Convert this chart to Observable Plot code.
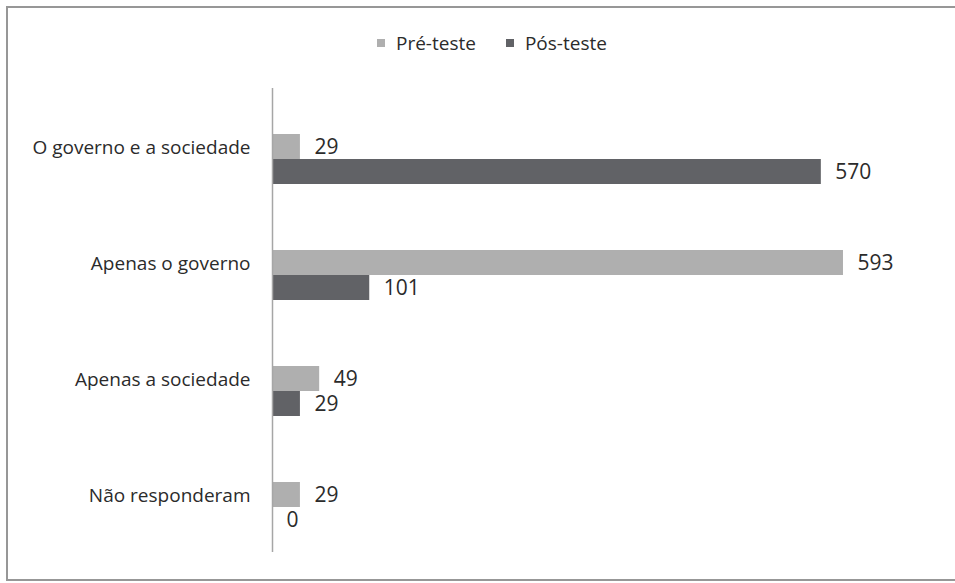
<!DOCTYPE html>
<html>
<head>
<meta charset="utf-8">
<script src="https://cdn.jsdelivr.net/npm/d3@7"></script>
<script src="https://cdn.jsdelivr.net/npm/@observablehq/plot@0.6"></script>
<style>
  html, body { margin: 0; padding: 0; background: #fff; }
  #wrap { position: relative; width: 955px; height: 583px; overflow: hidden; font-family: "Open Sans", sans-serif; }
  #frame { position: absolute; left: 6px; top: 6px; width: 970px; height: 571px; border: 2px solid #979797; box-sizing: content-box; }
  #legend { position: absolute; top: 27px; left: 377px; font-size: 19px; color: #2b2b2b; white-space: nowrap; line-height: 26px; }
  #legend span.item { display: inline-flex; align-items: center; margin-right: 30px; }
  #legend span.sw { display: inline-block; width: 8px; height: 8px; margin-right: 11px; }
  #chart { position: absolute; left: 0; top: 86px; }
</style>
</head>
<body>
<div id="wrap">
  <div id="frame"></div>
  <div id="legend"></div>
  <div id="chart"></div>
</div>
<script>
const categories = ["O governo e a sociedade", "Apenas o governo", "Apenas a sociedade", "Não responderam"];
const seriesNames = ["Pré-teste", "Pós-teste"];
const preTeste = [29, 593, 49, 29];
const posTeste = [570, 101, 29, 0];
const colors = ["#afafaf", "#616266"];

const rows = [];
categories.forEach((c, i) => {
  rows.push({category: c, series: seriesNames[0], value: preTeste[i]});
  rows.push({category: c, series: seriesNames[1], value: posTeste[i]});
});

const legend = document.getElementById("legend");
seriesNames.forEach((s, i) => {
  const item = document.createElement("span");
  item.className = "item";
  const sw = document.createElement("span");
  sw.className = "sw";
  sw.style.background = colors[i];
  item.appendChild(sw);
  item.appendChild(document.createTextNode(s));
  legend.appendChild(item);
});

const hasAxisMarks = typeof Plot.axisFy === "function";
const marks = [
  Plot.barX(rows, {x: "value", y: "series", fy: "category", fill: "series", inset: 0}),
  Plot.text(rows, {x: "value", y: "series", fy: "category", text: d => String(d.value), textAnchor: "start", dx: 14, fontSize: 21, fill: "#2b2b2b"}),
  Plot.ruleX([0], {stroke: "#a6a6a6", strokeWidth: 1.5, insetTop: -13, insetBottom: 13})
];
if (hasAxisMarks) {
  marks.push(Plot.axisFy({anchor: "left", tickSize: 0, tickPadding: 22, dy: -12, label: null, fontSize: 19, fill: "#2b2b2b"}));
}

const chart = Plot.plot({
  width: 955,
  height: 480,
  marginLeft: 272,
  marginRight: 9,
  marginTop: 13,
  marginBottom: 0,
  style: {fontFamily: "Open Sans, sans-serif", fontSize: "19px", color: "#2b2b2b", background: "transparent", overflow: "visible"},
  x: {domain: [0, 700], axis: null},
  y: {domain: seriesNames, axis: null, paddingInner: 0, paddingOuter: 1.27},
  fy: hasAxisMarks
    ? {domain: categories, label: null, padding: 0}
    : {domain: categories, label: null, padding: 0, axis: "left", tickSize: 0, tickPadding: 22},
  color: {domain: seriesNames, range: colors},
  marks
});
document.getElementById("chart").appendChild(chart);
</script>
</body>
</html>
